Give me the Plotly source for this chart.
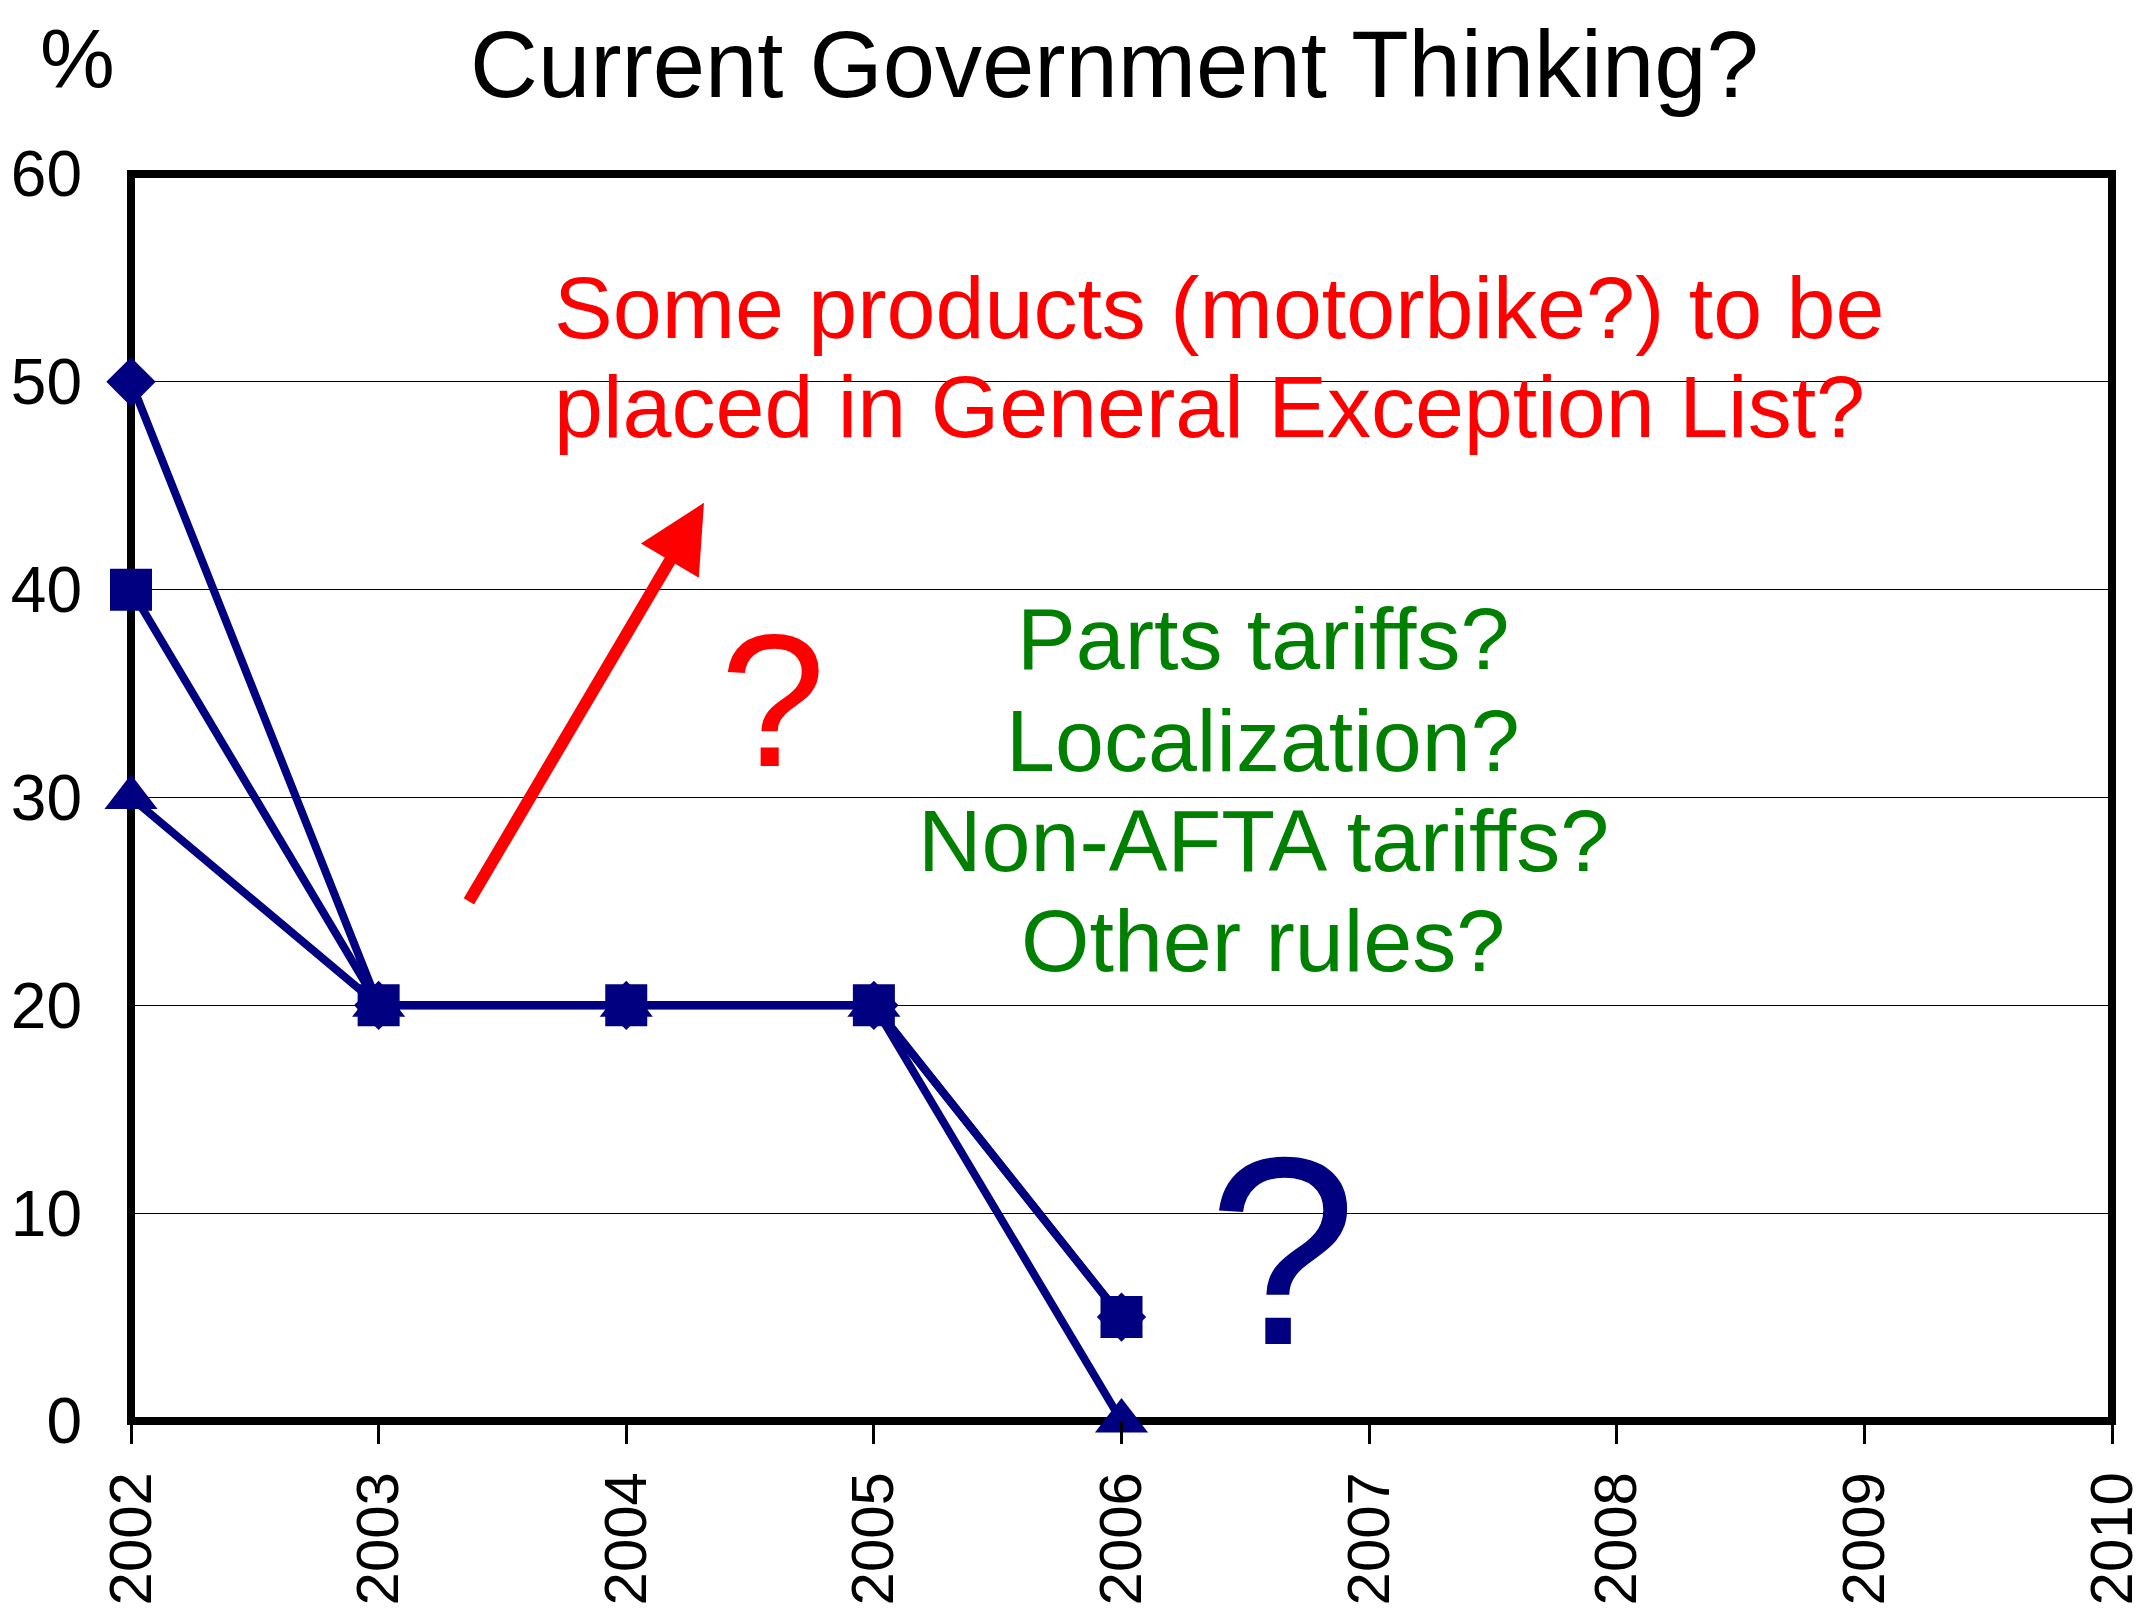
import plotly.graph_objects as go

# ---- data ----
years = [2002, 2003, 2004, 2005, 2006]
diamond_vals = [50, 20, 20, 20, 5]
square_vals = [40, 20, 20, 20, 5]
triangle_vals = [30, 20, 20, 20, 0]
x_tick_vals = [2002, 2003, 2004, 2005, 2006, 2007, 2008, 2009, 2010]
y_tick_vals = [0, 10, 20, 30, 40, 50, 60]

title_text = "Current Government Thinking?"
unit_text = "%"
red_lines = ["Some products (motorbike?) to be", "placed in General Exception List?"]
green_lines = ["Parts tariffs?", "Localization?", "Non-AFTA tariffs?", "Other rules?"]

NAVY = "#000080"
RED = "#FF0000"
GREEN = "#008000"
FONT = "Liberation Sans, Arial, sans-serif"

# page body has an 8px margin; size the figure to fit inside the window
W, H = 2130, 1604
L, R, T, B = 123, 26, 166, 191

fig = go.Figure()

series = [
    (diamond_vals, "diamond", 38),
    (triangle_vals, "triangle-up", 46),
    (square_vals, "square", 42),
]
for vals, sym, sz in series:
    fig.add_trace(go.Scatter(
        x=years, y=vals, mode="lines+markers",
        line=dict(color=NAVY, width=8),
        marker=dict(symbol=sym, size=sz, color=NAVY, line=dict(width=0)),
        cliponaxis=False, showlegend=False, hoverinfo="skip",
    ))

# frame
fig.add_shape(type="rect", xref="paper", yref="paper", x0=0, x1=1, y0=0, y1=1,
              line=dict(color="black", width=8), layer="between")

ann = []
# title
ann.append(dict(text=title_text, xref="paper", yref="paper", x=0.4967, y=1.0882,
                xanchor="center", yanchor="middle", showarrow=False,
                font=dict(family=FONT, size=94, color="black")))
ann.append(dict(text=unit_text, xref="paper", yref="paper", x=-0.027, y=1.092,
                xanchor="center", yanchor="middle", showarrow=False,
                font=dict(family=FONT, size=84, color="black")))
# red text
for txt, yv in zip(red_lines, [53.6, 48.8]):
    ann.append(dict(text=txt, xref="x", yref="y", x=2003.70, y=yv,
                    xanchor="left", yanchor="middle", showarrow=False,
                    font=dict(family=FONT, size=88, color=RED)))
# green text
for txt, yv in zip(green_lines, [37.63, 32.72, 27.91, 23.10]):
    ann.append(dict(text=txt, xref="x", yref="y", x=2006.572, y=yv,
                    xanchor="center", yanchor="middle", showarrow=False,
                    font=dict(family=FONT, size=88, color=GREEN)))
# question marks
ann.append(dict(text="?", xref="x", yref="y", x=2004.593, y=34.7,
                xanchor="center", yanchor="middle", showarrow=False,
                font=dict(family=FONT, size=190, color=RED)))
ann.append(dict(text="?", xref="x", yref="y", x=2006.649, y=8.2,
                xanchor="center", yanchor="middle", showarrow=False,
                font=dict(family=FONT, size=268, color=NAVY)))
# red arrow
ann.append(dict(text="", xref="x", yref="y", axref="x", ayref="y",
                x=2004.314, y=44.18, ax=2003.361, ay=24.93,
                showarrow=True, arrowhead=2, arrowwidth=12, arrowsize=1.12,
                arrowcolor=RED, standoff=0, startstandoff=0))

fig.update_layout(
    width=W, height=H,
    margin=dict(l=L, r=R, t=T, b=B, autoexpand=False),
    paper_bgcolor="white", plot_bgcolor="white",
    showlegend=False,
    annotations=ann,
    font=dict(family=FONT, color="black"),
)
fig.update_xaxes(
    range=[2002, 2010], tickmode="array", tickvals=x_tick_vals,
    ticktext=[str(v) for v in x_tick_vals],
    tickangle=-90, ticks="outside", ticklen=22, tickwidth=3, tickcolor="black",
    tickfont=dict(family=FONT, size=60, color="black"),
    showgrid=False, zeroline=False, showline=False, ticklabelstandoff=4,
    ticklabeloverflow="allow",
)
fig.update_yaxes(
    range=[0, 60], tickmode="array", tickvals=y_tick_vals,
    ticktext=[str(v) for v in y_tick_vals],
    ticks="", tickfont=dict(family=FONT, size=64, color="black"),
    showgrid=True, gridcolor="black", gridwidth=1.3,
    zeroline=False, showline=False, ticklabelstandoff=48,
    ticklabeloverflow="allow",
)

fig.write_html("out.html")
